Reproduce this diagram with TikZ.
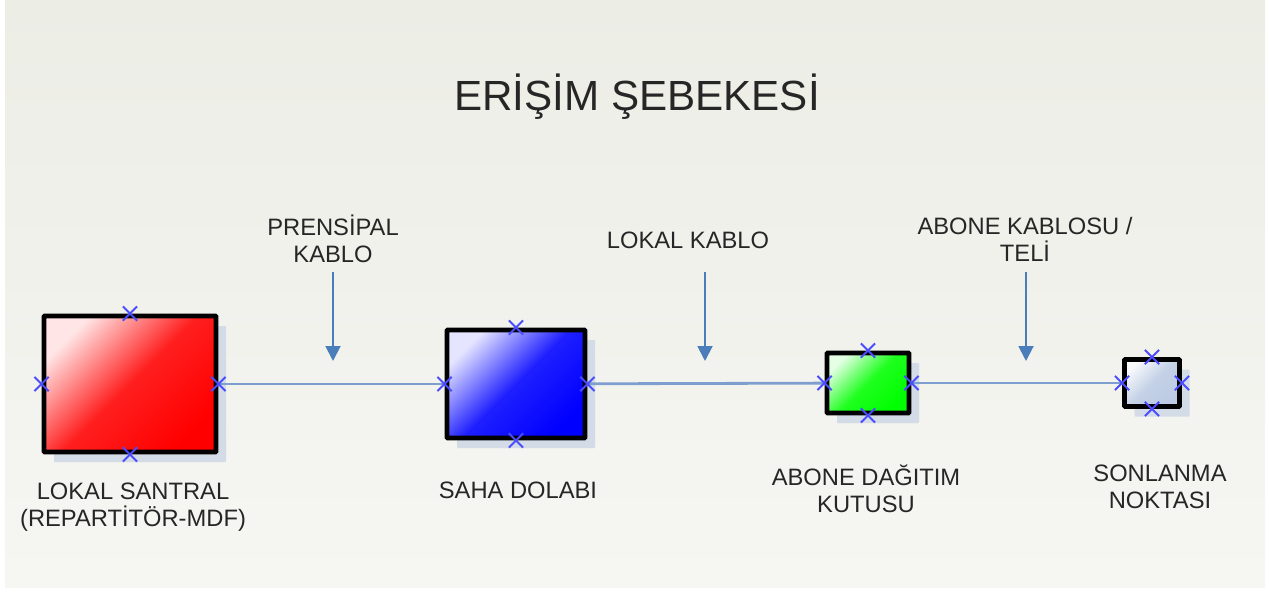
\documentclass[tikz,border=0pt]{standalone}
\usepackage{fontspec}
\setmainfont{Liberation Sans}
\usetikzlibrary{arrows.meta,shapes.misc,shadows}
\definecolor{bgTop}{HTML}{ECEDE5}
\definecolor{bgBot}{HTML}{F6F6F3}
\definecolor{lineColor}{HTML}{7E9ECF}
\definecolor{arrColor}{HTML}{4A7EBB}
\definecolor{shColor}{HTML}{D2DBE6}
\definecolor{txtColor}{HTML}{262626}
\definecolor{endColor}{HTML}{BCCBE3}
\tikzset{
	device/.style={draw=black, line width=2.8pt, rounded corners=0.5pt,
		drop shadow={shadow xshift=0.2cm, shadow yshift=-0.2cm, fill=shColor, opacity=1}},
	grad/.style={top color=#1!10!white, bottom color=#1, middle color=#1!88!white, shading angle=45},
	xmark/.style={cross out, draw=blue!70, line width=1.1pt, minimum size=7pt, inner sep=0pt},
	cable/.style={draw=lineColor, line width=1.6pt},
	pointer/.style={draw=arrColor, line width=1.1pt, -{Triangle[width=0.3cm,length=0.3cm]}},
	lbl/.style={text=txtColor, font=\fontsize{13.5}{15.4}\selectfont, align=center}
}
\begin{document}
\begin{tikzpicture}
			\useasboundingbox (0,0) rectangle (25.38,-11.84);
			\shade[top color=bgTop, bottom color=bgBot] (0.1,0) rectangle (25.3,-11.74);
			\node[lbl, font=\fontsize{24}{28}\selectfont] at (12.74,-1.94) (title) {ERİŞİM ŞEBEKESİ};
			% boxes
			\node[device, grad=red, minimum width=3.44cm, minimum height=2.72cm] at (2.6,-7.68) (ls) {};
			\node[device, grad=blue, minimum width=2.76cm, minimum height=2.16cm] at (10.32,-7.68) (sd) {};
			\node[device, grad=green, minimum width=1.64cm, minimum height=1.2cm] at (17.36,-7.66) (adk) {};
			\node[device, grad=endColor, minimum width=1.1cm, minimum height=0.94cm] at (23.04,-7.66) (sn) {};
			\path (ls) edge[cable] (sd);
			\path (sd) edge[cable] (adk);
			\path (adk) edge[cable] (sn);
			\foreach \b in {ls,sd,adk,sn}
				\foreach \a in {north,south,east,west}
					\node[xmark] at (\b.\a) {};
			% captions
			\node[lbl] at (2.66,-10.14) (lsText) {LOKAL SANTRAL\\(REPARTİTÖR-MDF)};
			\node[lbl] at (10.36,-9.8) (sdText) {SAHA DOLABI};
			\node[lbl] at (17.32,-9.78) (adkText) {ABONE DAĞITIM\\KUTUSU};
			\node[lbl] at (23.2,-9.74) (snText) {SONLANMA\\NOKTASI};
			% cables
			\node[lbl] at (6.66,-4.78) (pk) {PRENSİPAL\\KABLO};
			\node[lbl] at (13.76,-4.8) (lk) {LOKAL KABLO};
			\node[lbl] at (20.5,-4.78) (ak) {ABONE KABLOSU /\\TELİ};
			\coordinate (pk top) at (6.66,-5.44);
			\coordinate (pk tip) at (6.66,-7.22);
			\coordinate (lk top) at (14.1,-5.44);
			\coordinate (lk tip) at (14.1,-7.22);
			\coordinate (ak top) at (20.52,-5.44);
			\coordinate (ak tip) at (20.52,-7.22);
			\path (pk top) edge[pointer] (pk tip);
			\path (lk top) edge[pointer] (lk tip);
			\path (ak top) edge[pointer] (ak tip);
\end{tikzpicture}
\end{document}
